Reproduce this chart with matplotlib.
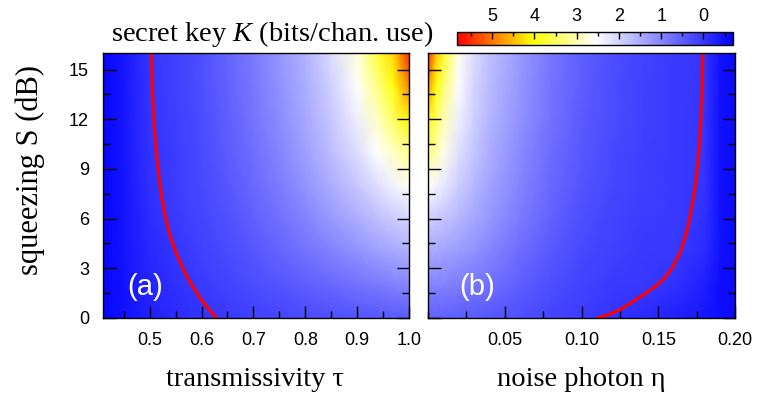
import numpy as np
import matplotlib.pyplot as plt
from matplotlib.colors import LinearSegmentedColormap, Normalize
from matplotlib.ticker import MultipleLocator, FormatStrFormatter

plt.rcParams['font.family'] = 'Liberation Sans'
plt.rcParams['mathtext.fontset'] = 'custom'
plt.rcParams['mathtext.rm'] = 'Liberation Serif'
plt.rcParams['mathtext.it'] = 'Liberation Serif:italic'

# squeezing grid (dB), shared by both maps
squeeze = np.array([0, 2, 4, 6, 8, 10, 12, 14, 16])

# (a) key rate vs transmissivity
tau = np.array([0.41, 0.45, 0.50, 0.55, 0.60, 0.65, 0.70, 0.75, 0.80, 0.85, 0.90, 0.94, 0.97, 1.00])
key_tau = np.array([
    [-0.60, -0.48, -0.27, -0.14, -0.04, 0.04, 0.12, 0.19, 0.26, 0.32, 0.38, 0.42, 0.45, 0.48],
    [-0.60, -0.46, -0.22, -0.08, 0.04, 0.15, 0.27, 0.39, 0.51, 0.63, 0.76, 0.87, 0.94, 1.00],
    [-0.60, -0.44, -0.17, -0.02, 0.12, 0.26, 0.42, 0.58, 0.76, 0.95, 1.15, 1.32, 1.44, 1.52],
    [-0.60, -0.43, -0.12, 0.04, 0.18, 0.34, 0.54, 0.75, 0.98, 1.24, 1.50, 1.74, 1.89, 2.02],
    [-0.60, -0.42, -0.07, 0.07, 0.22, 0.42, 0.64, 0.90, 1.18, 1.50, 1.84, 2.15, 2.40, 2.62],
    [-0.60, -0.41, -0.05, 0.09, 0.25, 0.48, 0.72, 1.00, 1.32, 1.70, 2.12, 2.54, 2.88, 3.25],
    [-0.60, -0.40, -0.03, 0.11, 0.28, 0.52, 0.78, 1.08, 1.42, 1.85, 2.36, 2.92, 3.47, 4.10],
    [-0.60, -0.40, -0.02, 0.12, 0.30, 0.55, 0.82, 1.14, 1.50, 1.97, 2.54, 3.30, 3.96, 4.90],
    [-0.60, -0.40, -0.01, 0.13, 0.32, 0.58, 0.86, 1.19, 1.57, 2.10, 2.75, 3.70, 4.30, 5.60],
])

# (b) key rate vs noise photon number
eta = np.array([0, 0.005, 0.01, 0.02, 0.03, 0.04, 0.06, 0.08, 0.10, 0.12, 0.14, 0.16, 0.18, 0.19, 0.20])
key_eta = np.array([
    [0.55, 0.54, 0.53, 0.49, 0.45, 0.40, 0.30, 0.18, 0.07, -0.04, -0.15, -0.28, -0.40, -0.50, -0.55],
    [1.00, 0.98, 0.96, 0.90, 0.82, 0.73, 0.52, 0.32, 0.15, 0.05, 0.03, -0.04, -0.30, -0.50, -0.55],
    [1.45, 1.42, 1.38, 1.28, 1.15, 1.00, 0.70, 0.44, 0.24, 0.12, 0.06, 0.015, -0.12, -0.45, -0.55],
    [1.92, 1.86, 1.80, 1.62, 1.43, 1.23, 0.86, 0.55, 0.31, 0.16, 0.08, 0.04, -0.06, -0.45, -0.55],
    [2.55, 2.42, 2.28, 1.92, 1.63, 1.39, 0.97, 0.63, 0.38, 0.20, 0.10, 0.05, -0.03, -0.45, -0.55],
    [3.40, 3.00, 2.70, 2.15, 1.80, 1.50, 1.06, 0.70, 0.43, 0.24, 0.11, 0.06, -0.02, -0.45, -0.55],
    [4.10, 3.50, 3.00, 2.35, 1.93, 1.60, 1.14, 0.76, 0.47, 0.27, 0.13, 0.06, -0.015, -0.45, -0.55],
    [4.80, 4.00, 3.40, 2.50, 2.02, 1.68, 1.20, 0.80, 0.50, 0.29, 0.14, 0.06, -0.01, -0.45, -0.55],
    [5.60, 4.50, 3.80, 2.65, 2.10, 1.75, 1.25, 0.84, 0.52, 0.30, 0.15, 0.06, -0.005, -0.45, -0.55],
])

# K = 0 boundaries
zero_S_a = np.array([0, 0.5, 1, 1.5, 2, 2.5, 3, 4, 5, 6, 7, 8, 10, 12, 14, 16])
zero_tau = np.array([0.629, 0.615, 0.602, 0.591, 0.581, 0.572, 0.564, 0.550, 0.539, 0.531,
                     0.525, 0.520, 0.513, 0.508, 0.505, 0.503])
zero_S_b = np.array([0, 0.25, 0.5, 1, 1.5, 2, 2.5, 3, 4, 5, 6, 8, 10, 12, 14, 16])
zero_eta = np.array([0.111, 0.119, 0.125, 0.134, 0.142, 0.1495, 0.155, 0.159, 0.1645, 0.168,
                     0.1705, 0.1743, 0.1765, 0.1778, 0.1786, 0.179])

cbar_ticks = [0, 1, 2, 3, 4, 5]

cmap = LinearSegmentedColormap.from_list(
    'key', [(0, (0, 0, 1)), (0.498, (1, 1, 1)), (0.727, (1, 1, 0)), (1, (1, 0, 0))])
norm = Normalize(vmin=-0.7, vmax=5.83)

fig = plt.figure(figsize=(7.67, 3.94), dpi=100)
ax_a = fig.add_axes([0.1343, 0.193, 0.399, 0.6726])
ax_b = fig.add_axes([0.558, 0.193, 0.4003, 0.6726])
cax = fig.add_axes([0.5958, 0.8858, 0.36, 0.033])

mesh = ax_a.pcolormesh(tau, squeeze, key_tau, shading='gouraud', cmap=cmap, norm=norm)
ax_b.pcolormesh(eta, squeeze, key_eta, shading='gouraud', cmap=cmap, norm=norm)
ax_a.plot(zero_tau, zero_S_a, color='red', lw=2.3)
ax_b.plot(zero_eta, zero_S_b, color='red', lw=2.3)

ax_a.set_xlim(0.41, 1.0)
ax_b.set_xlim(0, 0.2)
for ax in (ax_a, ax_b):
    ax.set_ylim(0, 16)
    ax.yaxis.set_major_locator(MultipleLocator(3))
    ax.yaxis.set_minor_locator(MultipleLocator(1.5))
    ax.tick_params(which='both', direction='in', left=True, right=True, top=False,
                   labelsize=13, pad=10, width=1)
    ax.tick_params(which='major', length=9)
    ax.tick_params(which='minor', length=5)
    for sp in ax.spines.values():
        sp.set_linewidth(1)

ax_a.xaxis.set_major_locator(MultipleLocator(0.1))
ax_a.xaxis.set_minor_locator(MultipleLocator(0.05))
ax_a.xaxis.set_major_formatter(FormatStrFormatter('%.1f'))
ax_b.set_xticks([0.05, 0.10, 0.15, 0.20])
ax_b.xaxis.set_minor_locator(MultipleLocator(0.025))
ax_b.xaxis.set_major_formatter(FormatStrFormatter('%.2f'))
ax_b.tick_params(labelleft=False)

ax_a.text(0.137, 0.117, '(a)', color='white', fontsize=21, ha='center', va='center',
          transform=ax_a.transAxes)
ax_b.text(0.159, 0.117, '(b)', color='white', fontsize=21, ha='center', va='center',
          transform=ax_b.transAxes)

cb = fig.colorbar(mesh, cax=cax, orientation='horizontal')
cb.set_ticks(cbar_ticks)
cax.invert_xaxis()
cax.xaxis.set_minor_locator(MultipleLocator(0.5))
cax.tick_params(which='both', direction='in', top=True, bottom=False,
                labeltop=True, labelbottom=False, labelsize=13, pad=5, width=1)
cax.tick_params(which='major', length=5)
cax.tick_params(which='minor', length=3)
cb.outline.set_linewidth(1)

serif = 'Liberation Serif'
fig.text(272 / 767, 1 - 41 / 394, 'secret key $K$ (bits/chan. use)', family=serif,
         fontsize=20.5, ha='center', va='baseline')
fig.text(255 / 767, 8 / 394, 'transmissivity τ', family=serif, fontsize=20.5,
         ha='center', va='baseline')
fig.text(581 / 767, 8 / 394, 'noise photon η', family=serif, fontsize=20.5,
         ha='center', va='baseline')
fig.text(30 / 767, 1 - 170 / 394, 'squeezing S (dB)', family=serif, fontsize=22,
         ha='center', va='center', rotation=90)

fig.savefig('out.png', dpi=100)
